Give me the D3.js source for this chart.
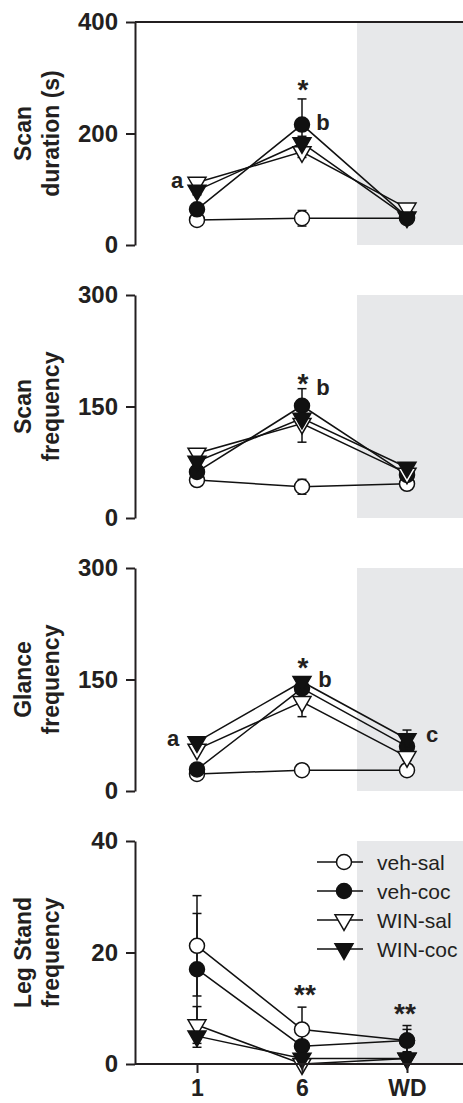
<!DOCTYPE html>
<html>
<head>
<meta charset="utf-8">
<script src="https://cdn.jsdelivr.net/npm/d3@7"></script>
<style>
  body { margin: 0; background: #fff; }
  text { font-family: "Liberation Sans", Arial, sans-serif; fill: #231f20; }
</style>
</head>
<body>
<div id="datavis"></div>
<script>
// categories and groups
const cats = ['1', '6', 'WD']
const groups = ['veh-sal', 'veh-coc', 'WIN-sal', 'WIN-coc']

// y axis titles and max values, one per panel
const titles = [['Scan', 'duration (s)'], ['Scan', 'frequency'], ['Glance', 'frequency'], ['Leg Stand', 'frequency']]
const yMax = [400, 300, 300, 40]

// means, rows follow groups, columns follow cats
const scanDurMean = [[45, 48, 48], [64, 216, 50], [112, 167, 66], [98, 183, 50]]
const scanDurErr  = [[3, 14, 4], [8, 46, 6], [6, 10, 5], [8, 12, 8]]
const scanFreqMean = [[51, 42, 46], [62, 151, 58], [87, 127, 60], [76, 134, 68]]
const scanFreqErr  = [[4, 10, 7], [6, 23, 6], [5, 25, 5], [6, 10, 5]]
const glanceMean = [[23, 28, 28], [29, 138, 60], [56, 120, 46], [66, 147, 70]]
const glanceErr  = [[3, 3, 4], [4, 8, 8], [4, 20, 5], [5, 5, 12]]
const legMean = [[21.2, 6.2, 4.2], [17, 3.2, 4.2], [7, 0, 1], [5, 1, 1]]
const legErr  = [[9, 4, 2], [10, 3, 2.7], [3.3, 1, 1], [2, 1, 1]]

// significance letters: text, category, value (baseline) and x shift
const notes = [
  [['a', '1', 102, -20], ['*', '6', 262, 1], ['b', '6', 206, 21]],
  [['*', '6', 168, 1], ['b', '6', 165, 21]],
  [['a', '1', 60, -24], ['*', '6', 153, 1], ['b', '6', 140, 23], ['c', 'WD', 66, 25]],
  [['**', '6', 10.8, 3], ['**', 'WD', 7.4, -2]]
]

const means = [scanDurMean, scanFreqMean, glanceMean, legMean]
const errs = [scanDurErr, scanFreqErr, glanceErr, legErr]

let width = 463,
    height = 1103,
    plotLeft = 135,
    plotRight = 463,
    top0 = 22,
    step = 273,
    panelH = 223,
    shadeX = 357

let svg = d3.select('#datavis')
  .append('svg')
    .attr('width', width)
    .attr('height', height)

let x = d3.scalePoint()
  .domain(cats)
  .range([197, 407])

let filled = {'veh-sal': false, 'veh-coc': true, 'WIN-sal': false, 'WIN-coc': true}
let isTri = {'veh-sal': false, 'veh-coc': false, 'WIN-sal': true, 'WIN-coc': true}
let tri = d3.symbol().type(d3.symbolTriangle).size(140)()

function marker(sel, g) {
  if (isTri[g]) {
    sel.append('path')
      .attr('d', tri)
      .attr('transform', 'rotate(180)')
      .attr('fill', filled[g] ? '#111' : '#fff')
      .attr('stroke', '#111')
      .attr('stroke-width', 1.5)
  } else {
    sel.append('circle')
      .attr('r', 7.5)
      .attr('fill', filled[g] ? '#111' : '#fff')
      .attr('stroke', '#111')
      .attr('stroke-width', 1.5)
  }
}

means.forEach(function(m, p) {
  let top = top0 + p * step
  let y = d3.scaleLinear()
    .domain([0, yMax[p]])
    .range([top + panelH, top])

  let g = svg.append('g')

  // grey withdrawal area
  g.append('rect')
    .attr('x', shadeX)
    .attr('y', top)
    .attr('width', plotRight - shadeX)
    .attr('height', panelH)
    .attr('fill', '#e7e8ea')

  // y axis
  let ax = g.append('g')
    .attr('transform', `translate(${plotLeft},0)`)
    .call(d3.axisLeft(y).tickValues([0, yMax[p] / 2, yMax[p]]).tickSize(9).tickSizeOuter(0).tickPadding(8))
  ax.selectAll('path, line').attr('stroke', '#231f20').attr('stroke-width', 2)
  ax.selectAll('text')
    .style('font-size', '24px')
    .style('font-weight', 'bold')
    .attr('fill', '#231f20')

  // top border only on the first panel
  if (p == 0) {
    g.append('line')
      .attr('x1', plotLeft).attr('x2', plotRight)
      .attr('y1', y(yMax[p])).attr('y2', y(yMax[p]))
      .attr('stroke', '#231f20').attr('stroke-width', 2)
  }

  // axis title, two lines rotated
  let cy = top + panelH / 2
  titles[p].forEach(function(t, i) {
    g.append('text')
      .attr('transform', `translate(${i == 0 ? 31 : 59},${cy}) rotate(-90)`)
      .attr('text-anchor', 'middle')
      .style('font-size', '23px')
      .style('font-weight', 'bold')
      .text(t)
  })

  let line = d3.line()
    .x(function(d, i) { return x(cats[i]) })
    .y(function(d) { return y(d) })

  groups.forEach(function(grp, gi) {
    // error bars
    m[gi].forEach(function(v, ci) {
      let e = errs[p][gi][ci]
      let cx = x(cats[ci])
      let lo = y(Math.max(0, v - e)), hi = y(v + e)
      g.append('line')
        .attr('x1', cx).attr('x2', cx).attr('y1', lo).attr('y2', hi)
        .attr('stroke', '#111').attr('stroke-width', 1.5)
      ;[lo, hi].forEach(function(yy) {
        g.append('line')
          .attr('x1', cx - 4.5).attr('x2', cx + 4.5).attr('y1', yy).attr('y2', yy)
          .attr('stroke', '#111').attr('stroke-width', 1.5)
      })
    })
    g.append('path')
      .datum(m[gi])
      .attr('d', line)
      .attr('fill', 'none')
      .attr('stroke', '#111')
      .attr('stroke-width', 1.5)
  })

  // markers on top, series order kept
  groups.forEach(function(grp, gi) {
    m[gi].forEach(function(v, ci) {
      let mk = g.append('g').attr('transform', `translate(${x(cats[ci])},${y(v)})`)
      marker(mk, grp)
    })
  })

  // letters and stars
  notes[p].forEach(function(n) {
    g.append('text')
      .attr('x', x(n[1]) + n[3])
      .attr('y', y(n[2]))
      .attr('text-anchor', 'middle')
      .style('font-size', n[0].indexOf('*') >= 0 ? '28px' : '22px')
      .style('font-weight', 'bold')
      .text(n[0])
  })

  // bottom axis on the last panel
  if (p == 3) {
    g.append('line')
      .attr('x1', plotLeft).attr('x2', plotRight)
      .attr('y1', y(0)).attr('y2', y(0))
      .attr('stroke', '#231f20').attr('stroke-width', 2)
    let bx = g.append('g')
      .attr('transform', `translate(0,${y(0)})`)
      .call(d3.axisBottom(x).tickSize(9).tickSizeOuter(0).tickPadding(7))
    bx.select('.domain').remove()
    bx.selectAll('line').attr('stroke', '#231f20').attr('stroke-width', 2)
    bx.selectAll('text')
      .style('font-size', '23px')
      .style('font-weight', 'bold')
      .attr('fill', '#231f20')

    // legend
    groups.forEach(function(grp, gi) {
      let ly = top + 21 + gi * 29
      g.append('line')
        .attr('x1', 317).attr('x2', 363).attr('y1', ly).attr('y2', ly)
        .attr('stroke', '#111').attr('stroke-width', 1.5)
      let mk = g.append('g').attr('transform', `translate(344,${ly})`)
      marker(mk, grp)
      g.append('text')
        .attr('x', 377)
        .attr('y', ly)
        .attr('dy', '0.36em')
        .style('font-size', '21px')
        .text(grp)
    })
  }
})
</script>
</body>
</html>
